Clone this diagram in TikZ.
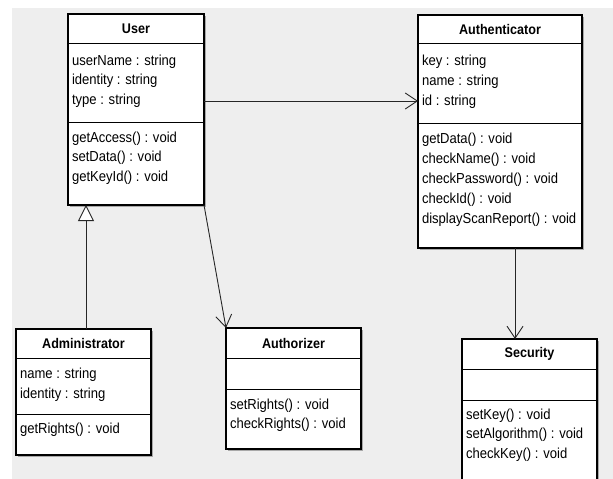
\documentclass[tikz,border=0pt]{standalone}
\usepackage{fontspec}
\setmainfont[FakeStretch=0.9]{Liberation Sans}
\usetikzlibrary{arrows.meta}
\definecolor{bgc}{HTML}{EEEEEE}
\definecolor{shc}{HTML}{A8A8A8}
\begin{document}
\begin{tikzpicture}[x=1pt,y=-1pt,
  every node/.style={inner sep=0pt,outer sep=0pt},
  cls/.style={draw=black,line width=1.2pt,fill=white,rectangle,anchor=north west},
  sepline/.style={draw=black,line width=1pt},
  shd/.style={fill=shc},
  txt/.style={anchor=base west,font=\fontsize{14.5}{16}\selectfont},
  ttl/.style={anchor=center,font=\fontsize{14}{16}\selectfont\bfseries},
  assoc/.style={draw=black!85,line width=0.9pt,-{Straight Barb[length=12pt,width=16pt,line width=0.9pt]}},
  gen/.style={draw=black!85,line width=0.9pt,-{Triangle[open,length=16pt,width=16pt,fill=white,line width=0.9pt]}}
]
\useasboundingbox (0,0) rectangle (613,479);
\fill[bgc] (12,8) rectangle (613,479);

% ---------- User ----------
\fill[shd] (70,16) rectangle (206,207);
\node[cls,minimum width=136pt,minimum height=191pt] (user) at (68,14) {};
\draw[sepline] (68,43) -- (204,43);
\draw[sepline] (68,122) -- (204,122);
\node[ttl] (userT) at (136,29) {User};
\node[txt] (u1) at (72,65) {userName : string};
\node[txt] (u2) at (72,84.5) {identity : string};
\node[txt] (u3) at (72,104) {type : string};
\node[txt] (u4) at (72,142) {getAccess() : void};
\node[txt] (u5) at (72,161.5) {setData() : void};
\node[txt] (u6) at (72,181) {getKeyId() : void};

% ---------- Authenticator ----------
\fill[shd] (420,17) rectangle (584,250);
\node[cls,minimum width=164pt,minimum height=233pt] (authn) at (418,15) {};
\draw[sepline] (418,43) -- (582,43);
\draw[sepline] (418,123) -- (582,123);
\node[ttl] (authnT) at (500,29) {Authenticator};
\node[txt] (a1) at (422,65) {key : string};
\node[txt] (a2) at (422,85) {name : string};
\node[txt] (a3) at (422,105) {id : string};
\node[txt] (a4) at (422,143) {getData() : void};
\node[txt] (a5) at (422,163) {checkName() : void};
\node[txt] (a6) at (422,183) {checkPassword() : void};
\node[txt] (a7) at (422,203) {checkId() : void};
\node[txt] (a8) at (422,223) {displayScanReport() : void};

% ---------- Administrator ----------
\fill[shd] (18,331) rectangle (153,457);
\node[cls,minimum width=135pt,minimum height=126pt] (admin) at (16,329) {};
\draw[sepline] (16,358) -- (151,358);
\draw[sepline] (16,414) -- (151,414);
\node[ttl] (adminT) at (83.5,343.5) {Administrator};
\node[txt] (d1) at (20,378) {name : string};
\node[txt] (d2) at (20,398.5) {identity : string};
\node[txt] (d3) at (20,433) {getRights() : void};

% ---------- Authorizer ----------
\fill[shd] (228,330) rectangle (363,451);
\node[cls,minimum width=135pt,minimum height=121pt] (authz) at (226,328) {};
\draw[sepline] (226,358) -- (361,358);
\draw[sepline] (226,389) -- (361,389);
\node[ttl] (authzT) at (293.5,343) {Authorizer};
\node[txt] (z1) at (230,409) {setRights() : void};
\node[txt] (z2) at (230,428) {checkRights() : void};

% ---------- Security ----------
\fill[shd] (464,341) rectangle (599,500);
\node[cls,minimum width=135pt,minimum height=160pt] (sec) at (462,339) {};
\draw[sepline] (462,369) -- (597,369);
\draw[sepline] (462,400) -- (597,400);
\node[ttl] (secT) at (529.5,353.5) {Security};
\node[txt] (s1) at (466,419) {setKey() : void};
\node[txt] (s2) at (466,438.5) {setAlgorithm() : void};
\node[txt] (s3) at (466,458) {checkKey() : void};

% ---------- connectors ----------
\draw[assoc] (user.east |- 0,101) -- (authn.west |- 0,101);
\draw[assoc] (user.south east) -- (authz.north west);
\draw[gen] (admin.north -| 86,0) -- (user.south -| 86,0);
\draw[assoc] (authn.south -| 515,0) -- (sec.north -| 515,0);
\end{tikzpicture}
\end{document}
